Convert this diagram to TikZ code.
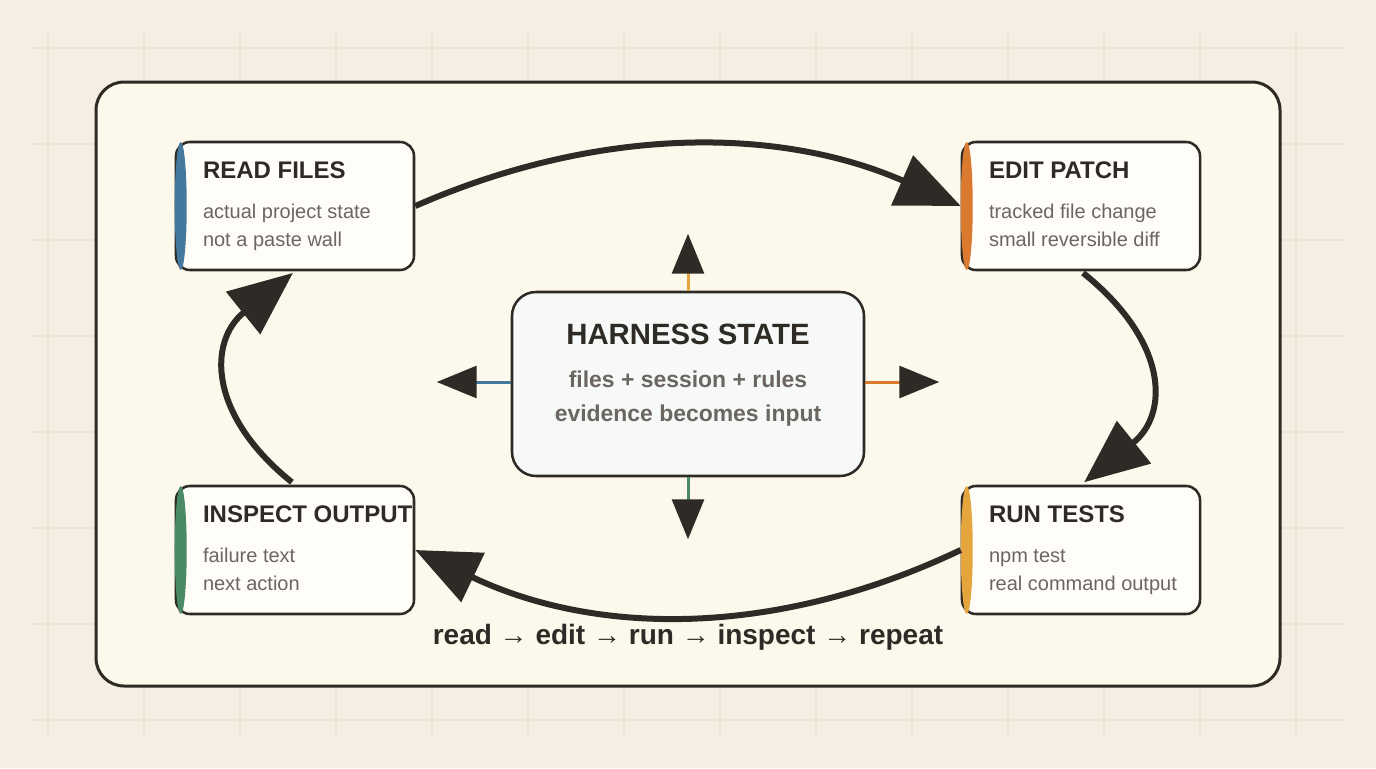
\documentclass[tikz,border=0pt]{standalone}
\usepackage{fontspec}
\setmainfont{Liberation Sans}
\usetikzlibrary{arrows.meta,positioning}

\definecolor{paper}{HTML}{F5EFE3}
\definecolor{panel}{HTML}{FDF8EC}
\definecolor{gridline}{HTML}{EEE5D4}
\definecolor{ink}{HTML}{2E2B26}
\definecolor{card}{HTML}{FFFDF8}
\definecolor{hubfill}{HTML}{F6F9F7}
\definecolor{muted}{HTML}{6B6661}
\definecolor{readcol}{HTML}{44789C}
\definecolor{editcol}{HTML}{D97A2E}
\definecolor{runcol}{HTML}{E3A53C}
\definecolor{inspectcol}{HTML}{4A8A64}

\begin{document}
\begin{tikzpicture}[x=0.75pt,y=-0.75pt,
    stage/.style={rectangle,rounded corners=10.5pt,draw=ink,line width=1.9pt,fill=card,
                  minimum width=178.5pt,minimum height=96pt},
    hub/.style={rectangle,rounded corners=18pt,draw=ink,line width=1.9pt,fill=hubfill,
                minimum width=264pt,minimum height=138pt},
    title/.style={font=\bfseries\fontsize{18}{20}\selectfont,text=ink,inner sep=0pt,anchor=base west},
    note/.style={font=\fontsize{15}{21}\selectfont,text=muted,inner sep=0pt,anchor=base west,align=left},
    loop arrow/.style={-{Triangle[length=48pt,width=40pt]},line width=4.5pt,draw=ink},
    spoke/.style={-{Triangle[length=30pt,width=24pt,color=ink]},line width=2.25pt}]

  % background and grid
  \fill[paper] (0,0) rectangle (1376,768);
  \foreach \x in {48,144,...,1296}
    \draw[gridline,line width=1.1pt] (\x,32) -- (\x,736);
  \foreach \y in {48,144,...,720}
    \draw[gridline,line width=1.1pt] (32,\y) -- (1344,\y);

  \node[rectangle,rounded corners=21pt,draw=ink,line width=2.25pt,fill=panel,
        minimum width=888pt,minimum height=453pt] (board) at (688,384) {};

  % the four stages
  \node[stage] (read) at (295,206) {};
  \node[stage] (edit) at (1081,206) {};
  \node[stage] (run) at (1081,550) {};
  \node[stage] (inspect) at (295,550) {};

  \fill[readcol] ([xshift=4.5pt]read.west) ellipse [x radius=4.5pt,y radius=48pt];
  \fill[editcol] ([xshift=4.5pt]edit.west) ellipse [x radius=4.5pt,y radius=48pt];
  \fill[runcol] ([xshift=4.5pt]run.west) ellipse [x radius=4.5pt,y radius=48pt];
  \fill[inspectcol] ([xshift=4.5pt]inspect.west) ellipse [x radius=4.5pt,y radius=48pt];

  % (base of a two-line note = its last line)
  \node[title] (read-title) at ([xshift=21pt,yshift=-28.5pt]read.north west) {READ FILES};
  \node[note] (read-note) at ([xshift=21pt,yshift=-79.5pt]read.north west) {actual project state\\not a paste wall};
  \node[title] (edit-title) at ([xshift=21pt,yshift=-28.5pt]edit.north west) {EDIT PATCH};
  \node[note] (edit-note) at ([xshift=21pt,yshift=-79.5pt]edit.north west) {tracked file change\\small reversible diff};
  \node[title] (run-title) at ([xshift=21pt,yshift=-28.5pt]run.north west) {RUN TESTS};
  \node[note] (run-note) at ([xshift=21pt,yshift=-79.5pt]run.north west) {npm test\\real command output};
  \node[title] (inspect-title) at ([xshift=21pt,yshift=-28.5pt]inspect.north west) {INSPECT OUTPUT};
  \node[note] (inspect-note) at ([xshift=21pt,yshift=-79.5pt]inspect.north west) {failure text\\next action};

  % the harness in the middle
  \node[hub] (state) at (688,384) {};
  \node[font=\bfseries\fontsize{22}{24}\selectfont,text=ink,inner sep=0pt,anchor=base]
    (state-title) at ([yshift=-40.5pt]state.north) {HARNESS STATE};
  \node[font=\bfseries\fontsize{17.2}{25.5}\selectfont,text=muted,inner sep=0pt,anchor=base,align=center]
    (state-note) at ([yshift=-98.25pt]state.north) {files + session + rules\\evidence becomes input};

  \coordinate (hub-up) at ([yshift=42.75pt]state.north);
  \coordinate (hub-down) at ([yshift=-46.5pt]state.south);
  \coordinate (hub-left) at ([xshift=-55.5pt,yshift=1.5pt]state.west);
  \coordinate (hub-right) at ([xshift=55.5pt,yshift=1.5pt]state.east);

  \draw[spoke,runcol] (state.north) -- (hub-up);
  \draw[spoke,inspectcol] (state.south) -- (hub-down);
  \draw[spoke,readcol] ([yshift=1.5pt]state.west) -- (hub-left);
  \draw[spoke,editcol] ([yshift=1.5pt]state.east) -- (hub-right);

  % the loop
  \draw[loop arrow] (read.east) .. controls +(182.7,-80) and +(-182.7,-80) .. (edit.west);
  \draw[loop arrow,shorten <=2pt,shorten >=3pt] (edit.south) .. controls +(88,70.7) and +(88,-70.7) .. (run.north);
  \draw[loop arrow] (run.west) .. controls +(-182.7,87) and +(182.7,87) .. (inspect.east);
  \draw[loop arrow,shorten <=3pt,shorten >=2pt] (inspect.north) .. controls +(-87,-70) and +(-87,70) .. (read.south);

  \node[font=\bfseries\fontsize{21}{24}\selectfont,text=ink,inner sep=0pt,anchor=base]
    (loop-caption) at (688,644) {read → edit → run → inspect → repeat};
\end{tikzpicture}
\end{document}
